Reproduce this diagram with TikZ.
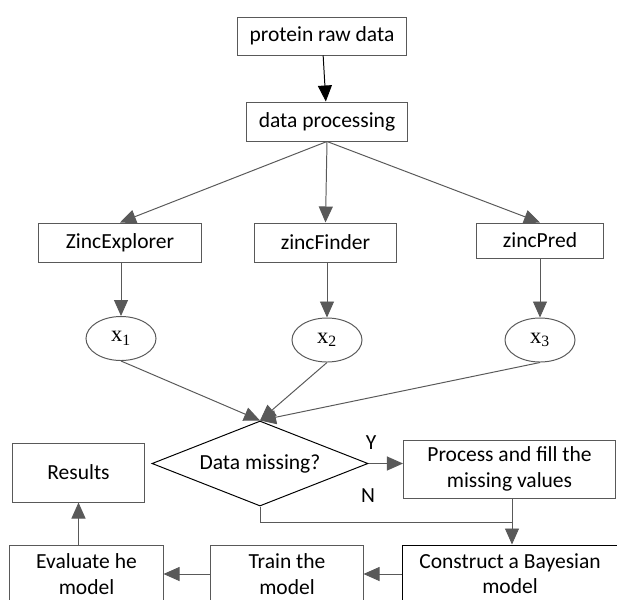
\documentclass[tikz,border=0pt]{standalone}
\usepackage{fontspec}
\setmainfont{Carlito}
\newfontfamily\tnr{Liberation Serif}
\usetikzlibrary{arrows.meta}
\usetikzlibrary{shapes.geometric}
\definecolor{linegray}{HTML}{595959}

\begin{document}
\begin{tikzpicture}[x=0.025cm, y=-0.025cm,
    box/.style={rectangle, draw=linegray, line width=0.7pt, inner sep=0pt, align=center, font=\fontsize{15.3}{18}\selectfont},
    oval/.style={ellipse, draw=linegray, line width=0.7pt, inner sep=0pt, minimum width=1.75cm, minimum height=1.1cm, font=\tnr\fontsize{16}{18}\selectfont},
    lbl/.style={font=\fontsize{15.3}{18}\selectfont, inner sep=0pt},
    arr/.style={draw=linegray, line width=0.7pt, -{Triangle[length=4mm, width=3.5mm]}}]
      \clip (0,0) rectangle (617,599);

      \node[box, minimum width=4.2cm, minimum height=0.95cm] (raw) at (322,36) {protein raw data};
      \node[box, minimum width=4cm, minimum height=0.975cm] (proc) at (327,121.5) {data processing};

      \node[box, minimum width=4.05cm, minimum height=0.975cm] (zexp) at (120,242.5) {ZincExplorer};
      \node[box, minimum width=3.525cm, minimum height=0.975cm] (zfind) at (325.5,242.5) {zincFinder};
      \node[box, minimum width=3.15cm, minimum height=0.875cm] (zpred) at (540,240.5) {zincPred};

      \node[oval] (x1) at (121,338.5) {x\textsubscript{1}};
      \node[oval] (x2) at (327,340) {x\textsubscript{2}};
      \node[oval] (x3) at (540,340) {x\textsubscript{3}};

      \node[diamond, aspect=2.5, draw=black, line width=0.7pt, inner sep=0pt, minimum width=5.4cm, minimum height=2.125cm, font=\fontsize{15.3}{18}\selectfont] (miss) at (260,463.5) {Data missing?};
      \node[box, minimum width=5.3cm, minimum height=1.45cm] (fill) at (509.5,469) {Process and fill the\\missing values};
      \node[box, minimum width=3.275cm, minimum height=1.475cm] (res) at (78.5,472.5) {Results};

      \node[box, minimum width=3.825cm, minimum height=1.45cm] (eval) at (86.5,574) {Evaluate he\\model};
      \node[box, minimum width=3.8cm, minimum height=1.45cm] (train) at (287,574) {Train the\\model};
      \node[box, draw=black, minimum width=5.35cm, minimum height=1.45cm] (bayes) at (510,574) {Construct a Bayesian\\model};

      \node[lbl] (yes) at (371,443) {Y};
      \node[lbl] (no) at (368,496) {N};
      \coordinate (join) at (512,522);

      \draw[arr, draw=black] (raw) -- (proc);
      \draw[arr] (proc.south) -- (zexp.north);
      \draw[arr] (proc.south) -- (zfind.north);
      \draw[arr] (proc.south) -- (zpred.north);

      \draw[arr] (zexp.south -| x1) -- (x1);
      \draw[arr] (zfind.south -| x2) -- (x2);
      \draw[arr] (zpred) -- (x3);

      \draw[arr] (x1.south) -- (miss.north);
      \draw[arr] (x2.south) -- (miss.north);
      \draw[arr] (x3.south) -- (miss.north);

      \draw[arr] (miss.east) -- (miss.east -| fill.west);
      \draw[draw=linegray, line width=0.7pt] (miss.south) |- (join);
      \draw[arr] (fill.south -| join) -- (bayes.north -| join);
      \draw[arr] (bayes) -- (train);
      \draw[arr] (train) -- (eval);
      \draw[arr] (eval.north -| res) -- (res);
    \end{tikzpicture}
\end{document}
